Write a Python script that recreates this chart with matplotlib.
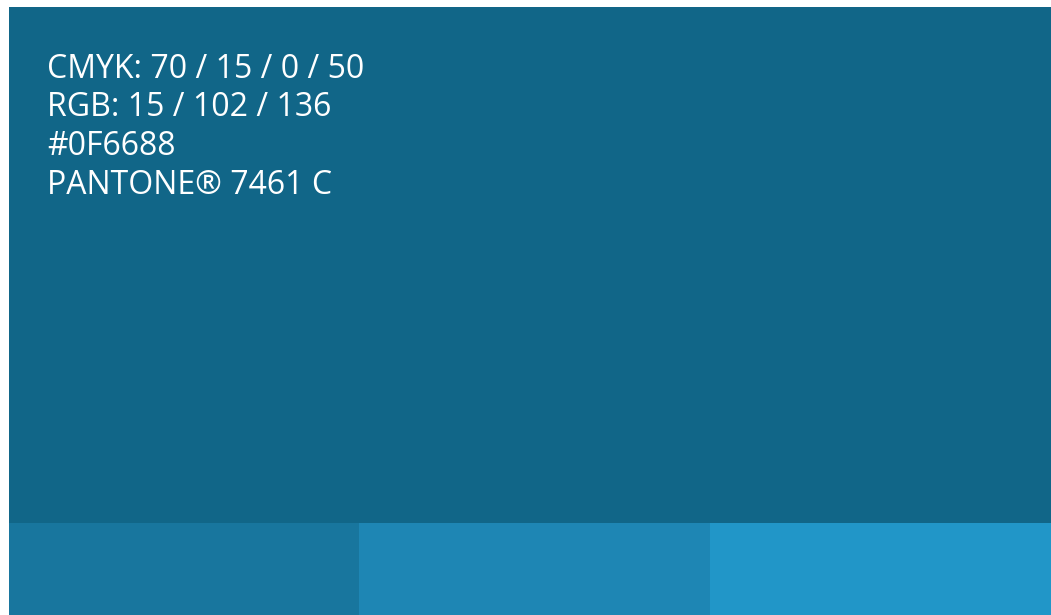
import matplotlib.pyplot as plt
from matplotlib.patches import Rectangle

# swatch data
main_color = "#116688"
tint_colors = ["#18769e", "#1e86b4", "#2196c8"]
info_lines = ["CMYK: 70 / 15 / 0 / 50",
              "RGB: 15 / 102 / 136",
              "#0F6688",
              "PANTONE\u00ae 7461 C"]

W, H = 1051, 615
fig = plt.figure(figsize=(W / 100, H / 100), dpi=100)
ax = fig.add_axes([0, 0, 1, 1])
ax.set_xlim(0, W)
ax.set_ylim(H, 0)
ax.axis("off")

left, top, strip_top = 9, 7, 523
ax.add_patch(Rectangle((left, top), W - left, strip_top - top, color=main_color, lw=0))

# tint strips along the bottom
edges = [left, 359, 710, W]
for i, c in enumerate(tint_colors):
    ax.add_patch(Rectangle((edges[i], strip_top), edges[i + 1] - edges[i] + 0.5,
                           H - strip_top, color=c, lw=0))

for i, line in enumerate(info_lines):
    ax.text(47, 78 + i * 38.5, line, color="white", fontsize=23,
            family=["Open Sans", "DejaVu Sans"], va="baseline", ha="left")

fig.savefig("out.png", dpi=100)
plt.close(fig)
